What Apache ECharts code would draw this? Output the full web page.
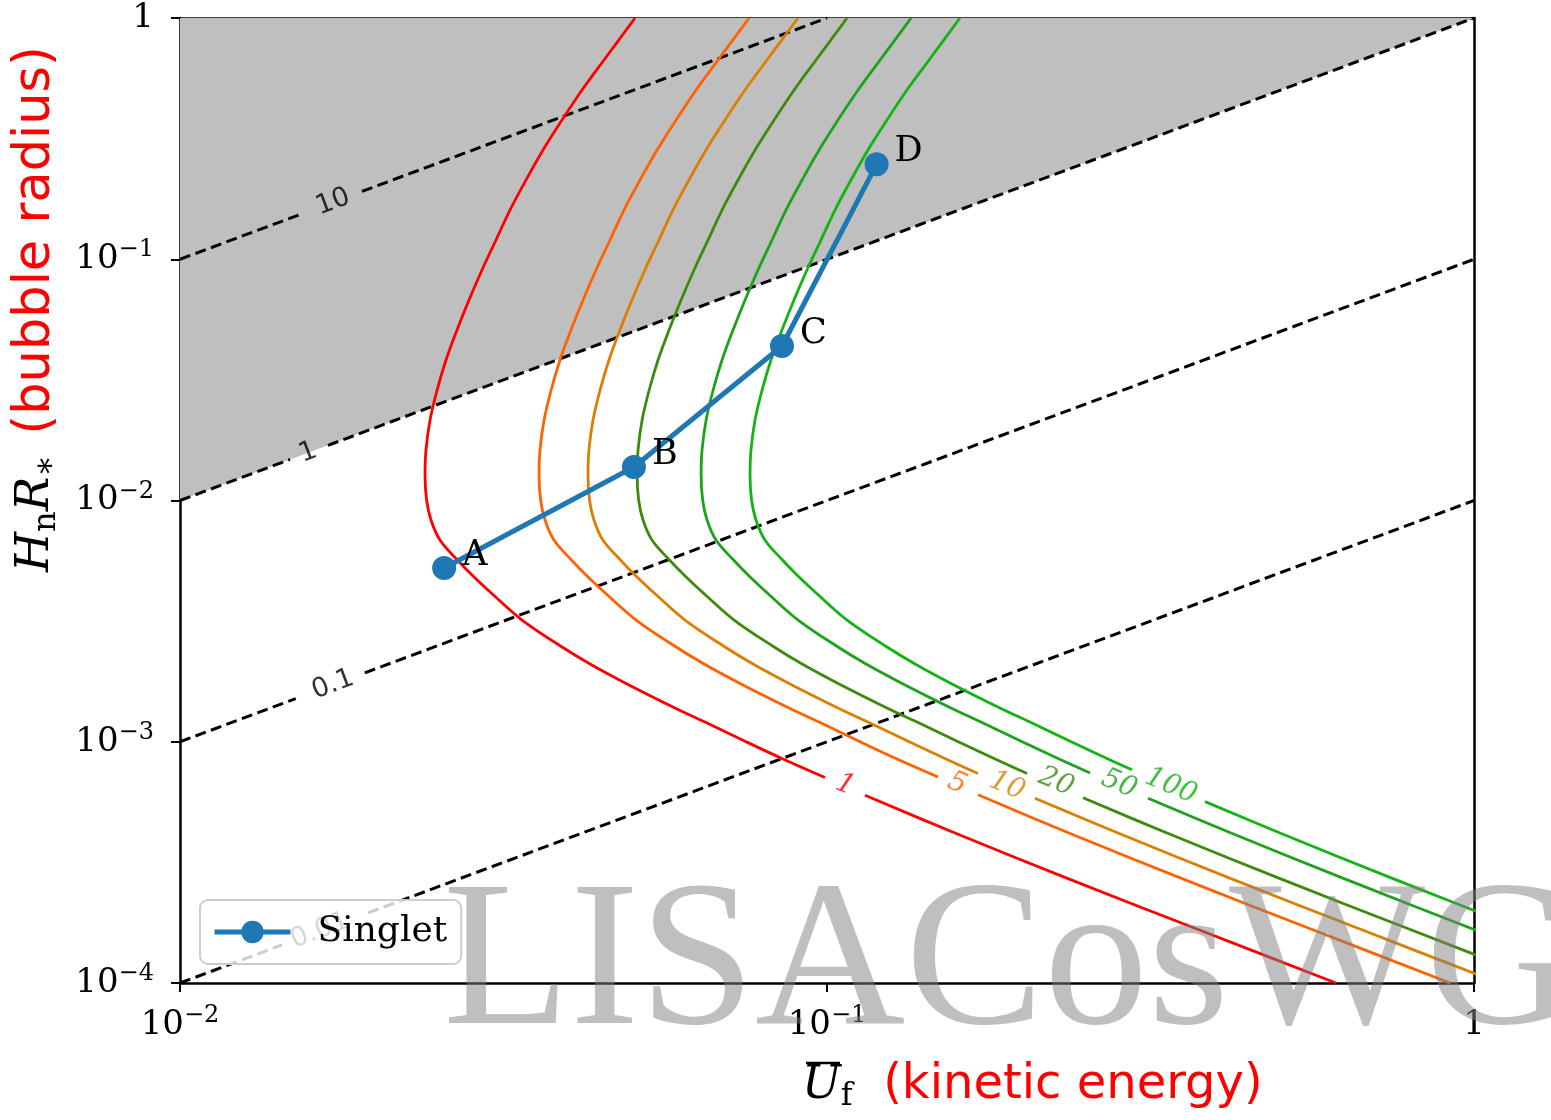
<!DOCTYPE html>
<html><head><meta charset="utf-8">
<script src="https://cdn.jsdelivr.net/npm/echarts@6/dist/echarts.min.js"></script>
<style>html,body{margin:0;padding:0;background:#fff}#c{width:1551px;height:1120px}</style>
</head><body><div id="c"></div>
<script>
// ---- data ----
const xTickExp = [-2, -1, 0];
const xTickLabels = [['10', '\u22122'], ['10', '\u22121'], ['1', '']];
const yTickExp = [-4, -3, -2, -1, 0];
const yTickLabels = [['10', '\u22124'], ['10', '\u22123'], ['10', '\u22122'], ['10', '\u22121'], ['1', '']];

const singletNames = ['A', 'B', 'C', 'D'];
const singletX = [0.0256, 0.0503, 0.0852, 0.1193];
const singletY = [0.00525, 0.01377, 0.0437, 0.2475];

// excluded region H_n R_* > U_f (shaded)
const shadeX = [0.01, 1, 0.01];
const shadeY = [0.01, 1, 1];

// dashed guide lines (null = gap for inline label)
const guideLevels = ['10', '1', '0.1', '0.01'];
const guide10X = [0.01, 0.01544, null, 0.01911, 0.1];
const guide10Y = [0.1, 0.1544, null, 0.1911, 1];
const guide1X = [0.01, 0.01479, null, 0.01693, 1];
const guide1Y = [0.01, 0.01479, null, 0.01693, 1];
const guide01X = [0.01, 0.0151, null, 0.0193, 1];
const guide01Y = [0.001, 0.00151, null, 0.00193, 0.1];
const guide001X = [0.01, 0.01438, null, 0.01953, 1];
const guide001Y = [0.0001, 0.0001438, null, 0.0001953, 0.01];
const guideLabelX = [0.01724, 0.01577, 0.01724, 0.01646];
const guideLabelY = [0.1724, 0.01577, 0.001724, 0.0001646];

// contour curves (null = gap for inline label)
const contourLevels = ['1', '5', '10', '20', '50', '100'];
const c1X = [0.0505,0.04522,0.04182,0.03895,0.0364,0.03426,0.03236,0.03079,0.02929,0.02797,0.0268,0.02577,0.02497,0.02435,0.024,0.02392,0.02405,0.02443,0.02522,0.02675,0.02837,0.03057,0.03378,0.03895,0.04303,0.04908,0.05864,0.06478,0.07457,0.08551,0.09929,null,0.11449,0.15771,0.2358,0.3799,0.6119];
const c1Y = [1,0.6698,0.5029,0.3777,0.2836,0.213,0.16,0.1202,0.09025,0.06777,0.0509,0.03823,0.02871,0.02157,0.0162,0.01276,0.01005,0.008302,0.006859,0.00572,0.004864,0.004038,0.003196,0.00247,0.0021,0.001736,0.001367,0.001207,0.001007,0.0008483,0.0007107,null,0.0006004,0.0004184,0.0002708,0.0001642,0.0001];
const c5X = [0.07578,0.06785,0.06275,0.05845,0.05462,0.05141,0.04856,0.0462,0.04395,0.04197,0.04021,0.03867,0.03747,0.03654,0.03601,0.03589,0.03609,0.03666,0.03784,0.04014,0.04257,0.04587,0.05069,0.05845,0.06457,0.07364,0.08799,0.0972,0.1119,0.1283,0.14846,null,0.17118,0.2366,0.3538,0.57,0.9182];
const c5Y = [1,0.6698,0.5029,0.3777,0.2836,0.213,0.16,0.1202,0.09025,0.06777,0.0509,0.03823,0.02871,0.02157,0.0162,0.01276,0.01005,0.008302,0.006859,0.00572,0.004864,0.004038,0.003196,0.00247,0.0021,0.001736,0.001367,0.001207,0.001007,0.0008483,0.0007141,null,0.0006027,0.0004184,0.0002708,0.0001642,0.0001];
const c10X = [0.09019,0.08076,0.07469,0.06956,0.06501,0.06119,0.05779,0.05499,0.05231,0.04995,0.04786,0.04603,0.0446,0.04349,0.04286,0.04272,0.04295,0.04363,0.04504,0.04778,0.05067,0.0546,0.06033,0.06956,0.07685,0.08766,0.1047,0.1157,0.1332,0.1527,0.17113,null,0.20962,0.2817,0.4211,0.6785,1.0929];
const c10Y = [1,0.6698,0.5029,0.3777,0.2836,0.213,0.16,0.1202,0.09025,0.06777,0.0509,0.03823,0.02871,0.02157,0.0162,0.01276,0.01005,0.008302,0.006859,0.00572,0.004864,0.004038,0.003196,0.00247,0.0021,0.001736,0.001367,0.001207,0.001007,0.0008483,0.0007392,null,0.0005834,0.0004184,0.0002708,0.0001642,0.0001];
const c20X = [0.1074,0.09618,0.08895,0.08285,0.07742,0.07287,0.06883,0.06549,0.0623,0.05949,0.057,0.05481,0.05311,0.05179,0.05105,0.05088,0.05115,0.05196,0.05364,0.0569,0.06034,0.06502,0.07185,0.08285,0.09152,0.1044,0.1247,0.1378,0.1586,0.1819,0.20381,null,0.24875,0.3354,0.5015,0.808,1.3015];
const c20Y = [1,0.6698,0.5029,0.3777,0.2836,0.213,0.16,0.1202,0.09025,0.06777,0.0509,0.03823,0.02871,0.02157,0.0162,0.01276,0.01005,0.008302,0.006859,0.00572,0.004864,0.004038,0.003196,0.00247,0.0021,0.001736,0.001367,0.001207,0.001007,0.0008483,0.0007392,null,0.0005857,0.0004184,0.0002708,0.0001642,0.0001];
const c50X = [0.1349,0.1208,0.1117,0.104,0.09722,0.09151,0.08643,0.08224,0.07823,0.07471,0.07158,0.06883,0.06669,0.06504,0.0641,0.06389,0.06424,0.06525,0.06736,0.07145,0.07578,0.08165,0.09023,0.104,0.1149,0.1311,0.1566,0.173,0.1992,0.2284,0.25503,null,0.3135,0.4212,0.6298,1.0147,1.6344];
const c50Y = [1,0.6698,0.5029,0.3777,0.2836,0.213,0.16,0.1202,0.09025,0.06777,0.0509,0.03823,0.02871,0.02157,0.0162,0.01276,0.01005,0.008302,0.006859,0.00572,0.004864,0.004038,0.003196,0.00247,0.0021,0.001736,0.001367,0.001207,0.001007,0.0008483,0.000742,null,0.0005834,0.0004184,0.0002708,0.0001642,0.0001];
const c100X = [0.1605,0.1438,0.1329,0.1238,0.1157,0.1089,0.1029,0.09788,0.09311,0.08892,0.0852,0.08192,0.07938,0.07741,0.0763,0.07604,0.07645,0.07766,0.08017,0.08504,0.09019,0.09718,0.1074,0.1238,0.1368,0.156,0.1864,0.2059,0.2371,0.2718,0.29606,null,0.38396,0.5014,0.7496,1.2077,1.9452];
const c100Y = [1,0.6698,0.5029,0.3777,0.2836,0.213,0.16,0.1202,0.09025,0.06777,0.0509,0.03823,0.02871,0.02157,0.0162,0.01276,0.01005,0.008302,0.006859,0.00572,0.004864,0.004038,0.003196,0.00247,0.0021,0.001736,0.001367,0.001207,0.001007,0.0008483,0.000765,null,0.0005648,0.0004184,0.0002708,0.0001642,0.0001];
const contourLabelX = [0.10662,0.15886,0.18978,0.22594,0.28272,0.34008];
const contourLabelY = [0.0006619,0.0006714,0.0006556,0.0006811,0.0006682,0.0006556];

// ---- build ----
const contourColors = ['#ff0000', '#ff6200', '#dc7e00', '#3c8b0c', '#1ba31b', '#12b312'];
const contourXs = [c1X, c5X, c10X, c20X, c50X, c100X];
const contourYs = [c1Y, c5Y, c10Y, c20Y, c50Y, c100Y];
const guideXs = [guide10X, guide1X, guide01X, guide001X];
const guideYs = [guide10Y, guide1Y, guide01Y, guide001Y];

function segments(xs, ys) {
  const segs = [[]];
  xs.forEach((x, i) => {
    if (x === null) segs.push([]);
    else segs[segs.length - 1].push([x, ys[i]]);
  });
  return segs;
}

const series = [];
series.push({
  type: 'custom', coordinateSystem: 'cartesian2d', silent: true, z: 1,
  data: [[shadeX[0], shadeY[0]]],
  renderItem: (params, api) => ({
    type: 'polygon',
    shape: { points: shadeX.map((x, i) => api.coord([x, shadeY[i]])) },
    style: { fill: '#bfbfbf' }
  })
});

guideXs.forEach((xs, k) => {
  segments(xs, guideYs[k]).forEach(seg => {
    series.push({
      type: 'line', data: seg, silent: true, symbol: 'none', z: 2,
      lineStyle: { color: '#000', width: 3, type: [11, 5.5] }
    });
  });
});
series.push({
  type: 'scatter', silent: true, symbolSize: 0, z: 3,
  data: guideLabelX.map((x, i) => [x, guideLabelY[i]]),
  label: {
    show: true, position: 'inside', rotate: 20.5, color: '#000',
    fontFamily: 'DejaVu Sans', fontSize: 27,
    formatter: p => guideLevels[p.dataIndex]
  }
});

contourXs.forEach((xs, k) => {
  segments(xs, contourYs[k]).forEach(seg => {
    series.push({
      type: 'line', data: seg, silent: true, symbol: 'none', z: 3, smooth: 0.35, clip: true,
      lineStyle: { color: contourColors[k], width: 2.8 }
    });
  });
});
series.push({
  type: 'scatter', silent: true, symbolSize: 0, z: 3,
  data: contourLabelX.map((x, i) => ({
    value: [x, contourLabelY[i]],
    label: { color: contourColors[i] }
  })),
  label: {
    show: true, position: 'inside', rotate: -23,
    fontFamily: 'DejaVu Serif', fontStyle: 'italic', fontSize: 28,
    formatter: p => contourLevels[p.dataIndex]
  }
});

series.push({
  name: 'Singlet', type: 'line', z: 5,
  data: singletX.map((x, i) => [x, singletY[i]]),
  symbol: 'circle', symbolSize: 24,
  itemStyle: { color: '#1f77b4' },
  lineStyle: { color: '#1f77b4', width: 5 },
  label: {
    show: true, position: 'right', distance: 6, offset: [0, -12],
    fontFamily: 'DejaVu Serif', fontSize: 35, color: '#000',
    formatter: p => singletNames[p.dataIndex]
  }
});

function tickFmt(exps, labels) {
  return v => {
    const e = Math.round(Math.log10(v));
    const i = exps.indexOf(e);
    if (i < 0) return '';
    const l = labels[i];
    return l[1] ? '{b|' + l[0] + '}{e|' + l[1] + '}' : '{b|' + l[0] + '}';
  };
}
const tickRich = {
  b: { fontFamily: 'DejaVu Serif', fontSize: 34, color: '#000', lineHeight: 42 },
  e: { fontFamily: 'DejaVu Serif', fontSize: 24, color: '#000', lineHeight: 24, verticalAlign: 'top' }
};
const axLine = { show: true, onZero: false, lineStyle: { color: '#000', width: 2.5 } };

const option = {
  animation: false,
  backgroundColor: '#fff',
  grid: { left: 180, right: 77, top: 18, bottom: 137, show: false },
  xAxis: [
    { type: 'log', logBase: 10, min: 0.01, max: 1, position: 'bottom',
      axisLine: axLine, axisTick: { show: true, length: 9, lineStyle: { color: '#000', width: 2 } },
      minorTick: { show: false }, splitLine: { show: false },
      axisLabel: { formatter: tickFmt(xTickExp, xTickLabels), rich: tickRich, margin: 21 } },
    { type: 'log', logBase: 10, min: 0.01, max: 1, position: 'top',
      axisLine: axLine, axisTick: { show: false }, axisLabel: { show: false }, splitLine: { show: false } }
  ],
  yAxis: [
    { type: 'log', logBase: 10, min: 0.0001, max: 1, position: 'left',
      axisLine: axLine, axisTick: { show: true, length: 9, lineStyle: { color: '#000', width: 2 } },
      minorTick: { show: false }, splitLine: { show: false },
      axisLabel: { formatter: tickFmt(yTickExp, yTickLabels), rich: tickRich, margin: 26 } },
    { type: 'log', logBase: 10, min: 0.0001, max: 1, position: 'right',
      axisLine: axLine, axisTick: { show: false }, axisLabel: { show: false }, splitLine: { show: false } }
  ],
  legend: {
    data: ['Singlet'], left: 200, top: 900,
    padding: [14, 14, 14, 12], itemWidth: 76, itemHeight: 28,
    lineStyle: { width: 5 },
    backgroundColor: 'rgba(255,255,255,0.8)', borderColor: '#cccccc', borderWidth: 2, borderRadius: 8,
    textStyle: { fontFamily: 'DejaVu Serif', fontSize: 36, color: '#000', padding: [0, 0, 0, 22] }
  },
  series: series,
  graphic: [
    { type: 'text', x: 36, y: 572, rotation: Math.PI / 2, z: 10, silent: true,
      style: {
        text: '{m|H}{s|n}{m|R}{s|\u2217}{r| (bubble radius)}', align: 'left', verticalAlign: 'middle',
        rich: {
          m: { fontFamily: 'DejaVu Serif', fontStyle: 'italic', fontSize: 46, fill: '#000', lineHeight: 54 },
          s: { fontFamily: 'DejaVu Serif', fontSize: 32, fill: '#000', lineHeight: 32, verticalAlign: 'bottom' },
          r: { fontFamily: 'DejaVu Sans', fontSize: 51, fill: '#ff0000', lineHeight: 54, padding: [0, 0, 0, 4] }
        }
      } },
    { type: 'text', x: 802, y: 1086, z: 10, silent: true,
      style: {
        text: '{m|U}{s|f}{r|  (kinetic energy)}', align: 'left', verticalAlign: 'middle',
        rich: {
          m: { fontFamily: 'DejaVu Serif', fontStyle: 'italic', fontSize: 46, fill: '#000', lineHeight: 54 },
          s: { fontFamily: 'DejaVu Serif', fontSize: 32, fill: '#000', lineHeight: 32, verticalAlign: 'bottom' },
          r: { fontFamily: 'DejaVu Sans', fontSize: 48, fill: '#ff0000', lineHeight: 54 }
        }
      } },
    { type: 'line', z: 10, silent: true, shape: { x1: 806, y1: 1063, x2: 840, y2: 1063 },
      style: { stroke: '#000', lineWidth: 2.5 } },
    { type: 'text', x: 443, y: 968, z: 100, silent: true,
      style: { text: 'LISACosWG', font: '208px "Liberation Serif"', fill: 'rgba(128,128,128,0.5)',
        align: 'left', verticalAlign: 'middle' } }
  ]
};
echarts.init(document.getElementById('c')).setOption(option);
</script></body></html>
